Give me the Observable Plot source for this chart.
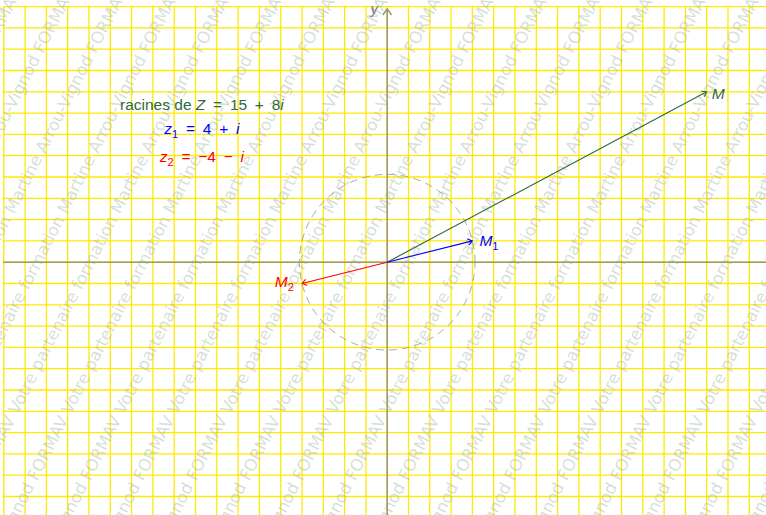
<!DOCTYPE html>
<html><head><meta charset="utf-8">
<script src="https://cdn.jsdelivr.net/npm/d3@7"></script>
<script src="https://cdn.jsdelivr.net/npm/@observablehq/plot@0.6"></script>
<style>body{margin:0;background:#fff} #chart svg{display:block}</style>
</head><body><div id="chart"></div>
<script>
// ---------- data ----------
const pointNames  = ["M", "M1", "M2"];
const pointX      = [15, 4, -4];
const pointY      = [8, 1, -1];
const pointLabels = ["$M$", "$M$_1", "$M$_2"];
const pointColors = ["#2f6a3c", "#0000ff", "#ff0000"];

const captionLines  = ["racines de $Z$ = 15 + 8$i$", "$z$_1 = 4 + $i$", "$z$_2 = −4 − $i$"];
const captionX      = [-8.7, -8.7, -8.7];
const captionY      = [7.4, 6.23, 4.96];
const captionColors = ["#2f6a3c", "#0000ff", "#ff0000"];

const gridX = d3.range(-18, 19);
const gridY = d3.range(-13, 13);
const axisLabel = "y";
const watermarkText = "Votre partenaire formation Martine Arrou-Vignod FORMAV";

// modulus of z1 (circle through M1 and M2)
const radius = Math.hypot(pointX[1], pointY[1]);

// ---------- build tables ----------
const vectors = pointNames.map((name, i) => ({name, x: pointX[i], y: pointY[i], label: pointLabels[i], color: pointColors[i]}));
const captions = captionLines.map((t, i) => ({text: t, x: captionX[i], y: captionY[i], color: captionColors[i]}));
const circle = d3.range(0, 361, 2).map(a => ({x: radius * Math.cos(a * Math.PI / 180), y: radius * Math.sin(a * Math.PI / 180)}));

const xDomain = [-18.155, 17.808];
const yDomain = [-11.892, 12.286];
const gridColor = "#ffe900";
const axisColor = "#9c9870";
const font = "'Liberation Sans', Arial, sans-serif";
const FS = 15.5;

const byName = n => vectors.filter(d => d.name === n);

const svg = Plot.plot({
  width: 766, height: 515, margin: 0,
  x: {domain: xDomain, axis: null},
  y: {domain: yDomain, axis: null},
  color: {type: "identity"},
  style: {background: "#fff", fontFamily: font},
  marks: [
    Plot.ruleX(gridX, {x: d => d, y1: -12.5, y2: 12, stroke: gridColor, strokeWidth: 1.3}),
    Plot.ruleY(gridY, {y: d => d, x1: -18, x2: 18.5, stroke: gridColor, strokeWidth: 1.3}),
    Plot.ruleY([0], {x1: -18, x2: 18.5, stroke: axisColor, strokeWidth: 1.5}),
    Plot.arrow([0], {x1: 0, y1: -12.5, x2: 0, y2: 11.9, stroke: axisColor, strokeWidth: 1.5, headLength: 7, headAngle: 70}),
    Plot.text([axisLabel], {x: 0, y: 11.9, text: d => d, dx: -13, dy: 1, fill: "#777", fontStyle: "italic", fontSize: 14}),
    Plot.line(circle, {x: "x", y: "y", stroke: "#9aa39a", strokeWidth: 0.9, strokeDasharray: "7,6"}),
    Plot.arrow(vectors, {x1: 0, y1: 0, x2: "x", y2: "y", stroke: "color", strokeWidth: 1.1, headLength: 7, headAngle: 70}),
    Plot.text(byName("M"),  {x: "x", y: "y", text: "label", fill: "color", dx: 5, dy: 2, textAnchor: "start", fontSize: FS}),
    Plot.text(byName("M1"), {x: "x", y: "y", text: "label", fill: "color", dx: 7, dy: 0, textAnchor: "start", fontSize: FS}),
    Plot.text(byName("M2"), {x: "x", y: "y", text: "label", fill: "color", dx: -8, dy: -1, textAnchor: "end", fontSize: FS}),
    Plot.text(captions, {x: "x", y: "y", text: "text", fill: "color", textAnchor: "middle", fontSize: FS})
  ]
});

// rich text: $..$ italic, _c subscript
d3.select(svg).selectAll("text").filter(function() { return this.textContent.includes("$"); }).each(function() {
  const sub = 4;
  const t = this.textContent.replace(/ ([=+−]) /g, "\u2002$1\u2002");
  const node = d3.select(this).style("white-space", "pre");
  node.text(null);
  const re = /\$([^$]*)\$|_(.)|([^$_]+)/g;
  let m, up = false;
  while ((m = re.exec(t))) {
    const ts = node.append("tspan");
    if (up) { ts.attr("dy", -sub); up = false; }
    if (m[1] != null) ts.attr("font-style", "italic").text(m[1]);
    else if (m[2] != null) { ts.attr("font-size", FS * 0.72).attr("dy", sub).text(m[2]); up = true; }
    else ts.text(m[3]);
  }
});

// watermark (decorative), drawn between grid and axes
const marksG = d3.select(svg).selectAll(":scope > g").nodes();
const wm = d3.select(svg).insert("g", () => marksG[2])
  .attr("font-family", "'DejaVu Sans', sans-serif").attr("font-size", 16.5)
  .attr("fill", "#adbfb2").attr("fill-opacity", 0.5).style("white-space", "pre");
for (let x0 = -300; x0 < 900; x0 += 53) {
  const g = wm.append("g").attr("transform", `translate(${x0},415) rotate(-63)`);
  g.append("text").attr("text-anchor", "start").text(watermarkText + " " + watermarkText);
  g.append("text").attr("text-anchor", "end").text(watermarkText + "\u00a0");
}

document.getElementById("chart").append(svg);
</script>
</body></html>
